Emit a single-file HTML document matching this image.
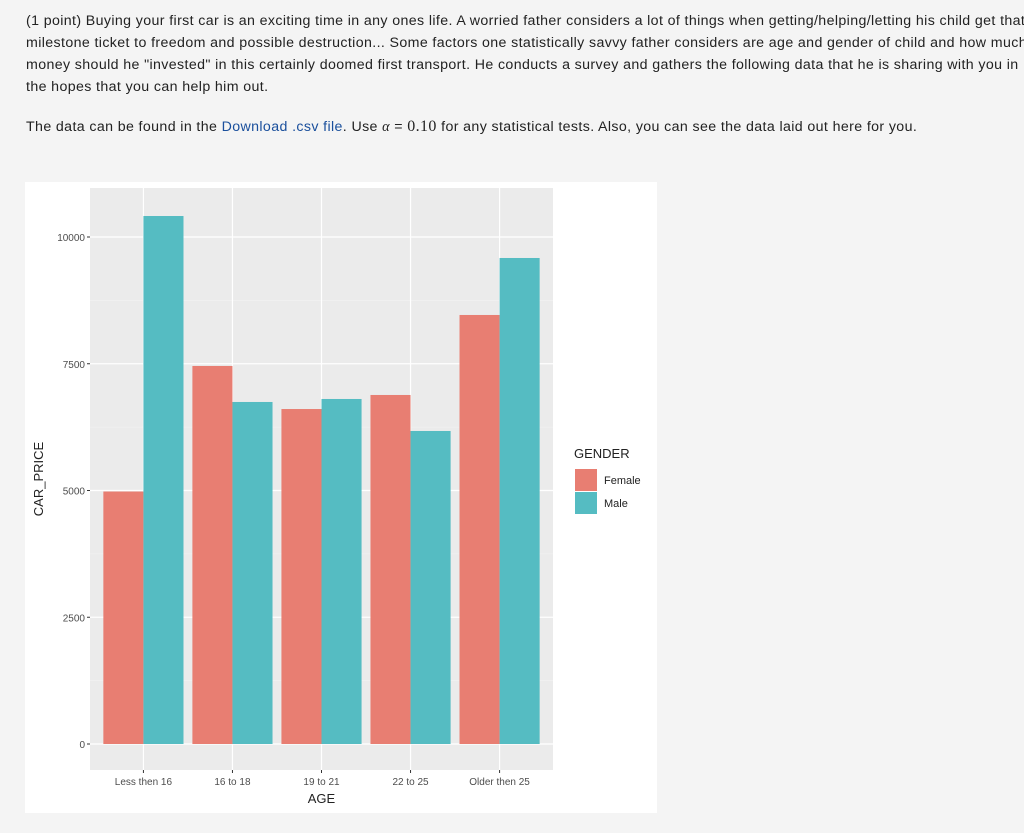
<!DOCTYPE html>
<html><head><meta charset="utf-8"><style>
body{margin:0;width:1024px;height:833px;background:#f4f4f4;font-family:"Liberation Sans",sans-serif;overflow:hidden;position:relative}
.txt{position:absolute;left:26px;top:10px;width:1000px;font-size:14.2px;line-height:22px;color:#222;white-space:nowrap;letter-spacing:0.38px}
.txt a{color:#1a4f9c;text-decoration:none}
svg{position:absolute;left:0;top:0}
</style></head><body>
<div class="txt">(1 point) Buying your first car is an exciting time in any ones life. A worried father considers a lot of things when getting/helping/letting his child get that<br>milestone ticket to freedom and possible destruction... Some factors one statistically savvy father considers are age and gender of child and how much<br>money should he "invested" in this certainly doomed first transport. He conducts a survey and gathers the following data that he is sharing with you in<br>the hopes that you can help him out.<br><div style="height:18px"></div>The data can be found in the <a>Download .csv file</a>. Use <i style="font-family:'Liberation Serif',serif">α</i> = <span style="font-family:'Liberation Serif',serif;font-size:16px">0.10</span> for any statistical tests. Also, you can see the data laid out here for you.</div>
<svg id="chart" width="1024" height="833"></svg>
<script>
const categories=["Less then 16","16 to 18","19 to 21","22 to 25","Older then 25"];
const female=[4980,7456,6607,6884,8462];
const male=[10414,6746,6805,6174,9586];
const yTicks=[0,2500,5000,7500,10000];
const ns="http://www.w3.org/2000/svg";
const svg=document.getElementById('chart');
function mk(t,a,p){const e=document.createElementNS(ns,t);for(const k in a)e.setAttribute(k,a[k]);(p||svg).appendChild(e);return e;}
const L=90,R=553,T=188,B=770;
const y=v=>744-v*(744-237)/10000;
const x=i=>L+(0.6+i)*(R-L)/5.2;
const bw=0.45*(R-L)/5.2;
const panel=mk('rect',{x:25,y:182,width:632,height:631,fill:'#fff'});

const pa=mk('rect',{x:L,y:T,width:R-L,height:B-T,fill:'#ebebeb'});

for(let v=1250;v<11000;v+=2500){const yy=y(v);if(yy>T)mk('line',{x1:L,x2:R,y1:yy,y2:yy,stroke:'#f5f5f5','stroke-width':0.6});}
yTicks.forEach(v=>{const yy=y(v);
mk('line',{x1:L,x2:R,y1:yy,y2:yy,stroke:'#fff','stroke-width':1.2});
mk('line',{x1:L-3,x2:L,y1:yy,y2:yy,stroke:'#333'});
const t=mk('text',{x:L-5,y:yy+4,'text-anchor':'end','font-size':10,fill:'#4d4d4d'});t.textContent=v;
});
categories.forEach((c,i)=>{const cx=x(i);
mk('line',{x1:cx,x2:cx,y1:T,y2:B,stroke:'#fff','stroke-width':1.2});
mk('line',{x1:cx,x2:cx,y1:B,y2:B+3,stroke:'#333'});
const t=mk('text',{x:cx,y:B+15,'text-anchor':'middle','font-size':10,fill:'#4d4d4d'});t.textContent=c;
});
categories.forEach((c,i)=>{const cx=x(i);
const f=mk('rect',{x:cx-bw,y:y(female[i]),width:bw,height:y(0)-y(female[i]),fill:'#e87e72'});

const m=mk('rect',{x:cx,y:y(male[i]),width:bw,height:y(0)-y(male[i]),fill:'#55bcc2'});
});
let t=mk('text',{x:(L+R)/2,y:803,'text-anchor':'middle','font-size':13,fill:'#222'});t.textContent='AGE';

t=mk('text',{x:0,y:0,'text-anchor':'middle','font-size':13,fill:'#222',transform:`translate(43,${(T+B)/2}) rotate(-90)`});t.textContent='CAR_PRICE';

t=mk('text',{x:574,y:458,'font-size':13,fill:'#222'});t.textContent='GENDER';

[['Female','#e87e72'],['Male','#55bcc2']].forEach((d,i)=>{
const r=mk('rect',{x:575,y:469+i*23,width:22,height:22,fill:d[1]});

const tt=mk('text',{x:604,y:484+i*23,'font-size':11,fill:'#222'});tt.textContent=d[0];
});
</script>
</body></html>
